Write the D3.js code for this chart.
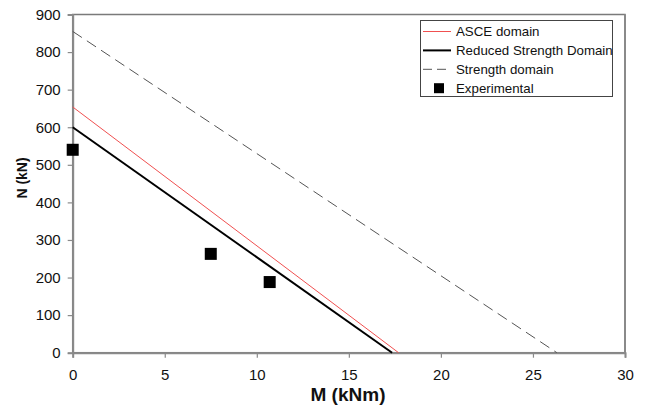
<!DOCTYPE html>
<html>
<head>
<meta charset="utf-8">
<script src="https://cdn.jsdelivr.net/npm/d3@7"></script>
<style>
  body { margin: 0; background: #fff; }
  text { font-family: "Liberation Sans", Arial, sans-serif; }
</style>
</head>
<body>
<div class="chart"></div>
<script>
// series
const asceM = [0, 17.7];
const asceN = [654, 0];
const reducedM = [0, 17.35];
const reducedN = [600, 0];
const strengthM = [0, 26.3];
const strengthN = [855, 0];
const expM = [0, 7.5, 10.7];
const expN = [540, 263, 188];

const xTicks = [0, 5, 10, 15, 20, 25, 30];
const yTicks = [0, 100, 200, 300, 400, 500, 600, 700, 800, 900];
const legendLabels = ['ASCE domain', 'Reduced Strength Domain', 'Strength domain', 'Experimental'];

const width = 648;
const height = 410;
const padding = { left: 72.7, right: 23, top: 14.5, bottom: 57.3 };

const x = d3.scaleLinear()
    .domain([0, 30])
    .range([padding.left, width - padding.right]);
const y = d3.scaleLinear()
    .domain([0, 900])
    .range([height - padding.bottom, padding.top]);

const svg = d3.select('.chart').append('svg')
    .attr('width', width).attr('height', height);

// frame
svg.append('rect')
    .attr('x', x(0)).attr('y', y(900))
    .attr('width', x(30) - x(0)).attr('height', y(0) - y(900))
    .attr('fill', 'none').attr('stroke', '#7a7a7a').attr('stroke-width', 1.5);
svg.append('line')
    .attr('x1', x(30)).attr('x2', x(30)).attr('y1', y(900)).attr('y2', y(0))
    .attr('stroke', '#8a8a8a').attr('stroke-width', 2);

// axes
const xAxis = svg.append('g')
    .attr('transform', 'translate(0,' + y(0) + ')')
    .call(d3.axisBottom(x).tickValues(xTicks).tickSize(5).tickPadding(12).tickFormat(d3.format('d')));
const yAxis = svg.append('g')
    .attr('transform', 'translate(' + x(0) + ',0)')
    .call(d3.axisLeft(y).tickValues(yTicks).tickSize(5).tickPadding(7).tickFormat(d3.format('d')));

[xAxis, yAxis].forEach(function(g){
    g.select('.domain').attr('stroke', '#8a8a8a').attr('stroke-width', 2);
    g.selectAll('.tick line').attr('stroke', '#8a8a8a').attr('stroke-width', 1.2);
    g.selectAll('.tick text')
        .attr('fill', '#111')
        .style('font-family', '"Liberation Sans", Arial, sans-serif')
        .style('font-size', '15px');
});

// axis titles
svg.append('text')
    .attr('x', 348).attr('y', 401)
    .attr('text-anchor', 'middle')
    .style('font-size', '19px').style('font-weight', 'bold')
    .attr('fill', '#111')
    .text('M (kNm)');
svg.append('text')
    .attr('transform', 'translate(27,178) rotate(-90)')
    .attr('text-anchor', 'middle')
    .style('font-size', '14px').style('font-weight', 'bold')
    .attr('fill', '#111')
    .text('N (kN)');

const line = d3.line()
    .x(function(d){ return x(d[0]); })
    .y(function(d){ return y(d[1]); });

svg.append('path')
    .datum(d3.zip(strengthM, strengthN))
    .attr('fill', 'none').attr('stroke', '#555').attr('stroke-width', 1)
    .attr('stroke-dasharray', '11,6')
    .attr('d', line);
svg.append('path')
    .datum(d3.zip(asceM, asceN))
    .attr('fill', 'none').attr('stroke', '#f05050').attr('stroke-width', 1)
    .attr('d', line);
svg.append('path')
    .datum(d3.zip(reducedM, reducedN))
    .attr('fill', 'none').attr('stroke', '#000').attr('stroke-width', 2)
    .attr('d', line);

const sq = 12;
svg.selectAll('rect.exp')
    .data(d3.zip(expM, expN))
    .enter()
    .append('rect')
    .attr('class', 'exp')
    .attr('x', function(d){ return x(d[0]) - sq / 2; })
    .attr('y', function(d){ return y(d[1]) - sq / 2; })
    .attr('width', sq).attr('height', sq)
    .attr('fill', '#000');

// legend
const legend = svg.append('g');
legend.append('rect')
    .attr('x', 420.5).attr('y', 20.5).attr('width', 192).attr('height', 76)
    .attr('fill', '#fff').attr('stroke', '#444').attr('stroke-width', 1);
const rowY = function(i){ return 31.5 + i * 18.9; };
legendLabels.forEach(function(label, i){
    const ly = rowY(i);
    if (i < 3) {
        legend.append('line')
            .attr('x1', 423).attr('x2', 451).attr('y1', ly).attr('y2', ly)
            .attr('stroke', ['#f05050', '#000', '#555'][i])
            .attr('stroke-width', [1, 2, 1][i])
            .attr('stroke-dasharray', i === 2 ? '9,5' : null);
    } else {
        legend.append('rect')
            .attr('x', 434).attr('y', ly - 5).attr('width', 10).attr('height', 10)
            .attr('fill', '#000');
    }
    legend.append('text')
        .attr('x', 456).attr('y', ly)
        .attr('dy', '0.35em')
        .style('font-size', '13.3px')
        .attr('fill', '#111')
        .text(label);
});
</script>
</body>
</html>
